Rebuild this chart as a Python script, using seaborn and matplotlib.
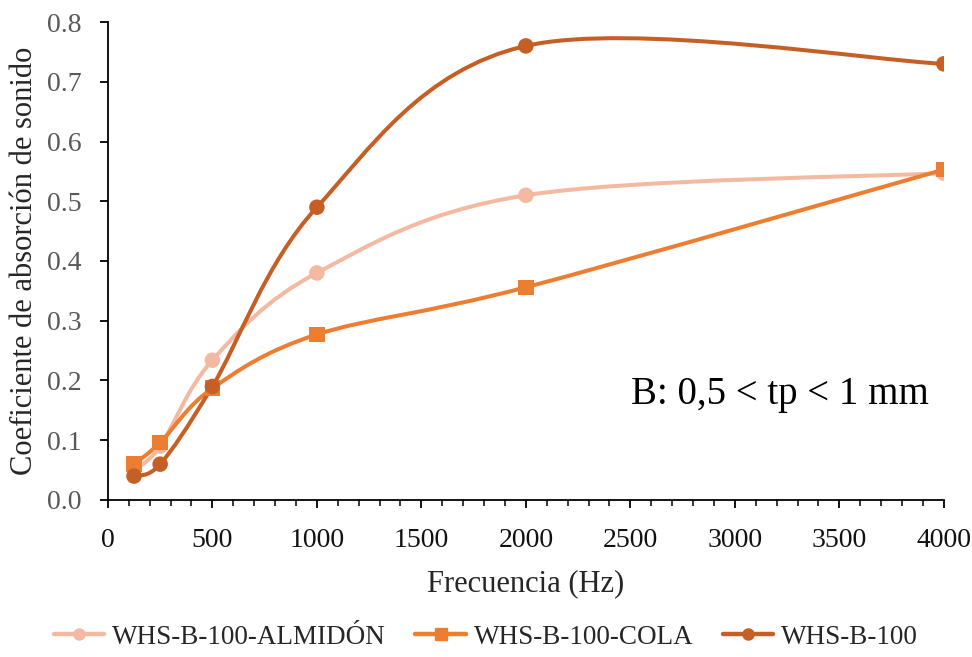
import numpy as np
import pandas as pd
import seaborn as sns
import matplotlib
matplotlib.use("Agg")
import matplotlib.pyplot as plt
from matplotlib.path import Path
from matplotlib.patches import PathPatch
from matplotlib.lines import Line2D
from matplotlib.ticker import MultipleLocator, FormatStrFormatter

# Frequencies (Hz) and absorption coefficients per sample
frecuencia = [125, 250, 500, 1000, 2000, 4000]
almidon = [0.05, 0.09, 0.234, 0.38, 0.51, 0.547]
cola = [0.06, 0.096, 0.187, 0.277, 0.356, 0.553]
base = [0.04, 0.06, 0.19, 0.49, 0.76, 0.73]

series_names = ["WHS-B-100-ALMIDÓN", "WHS-B-100-COLA", "WHS-B-100"]
series_values = [almidon, cola, base]
colors = ["#F4B9A1", "#ED7D31", "#C55F25"]
markers = ["o", "s", "o"]

df = pd.DataFrame({
    "Frecuencia": frecuencia * 3,
    "Coef": almidon + cola + base,
    "Serie": sum([[n] * len(frecuencia) for n in series_names], []),
})

sns.set_theme(style="white")
plt.rcParams["font.family"] = ["Liberation Serif", "DejaVu Serif"]

fig = plt.figure(figsize=(9.72, 6.57), dpi=100)
ax = fig.add_axes([0.111, 0.239, 0.86, 0.7275])


def smooth_path(xs, ys):
    """Catmull-Rom style cubic Bezier through the points."""
    pts = np.column_stack([xs, ys]).astype(float)
    n = len(pts)
    verts = [pts[0]]
    codes = [Path.MOVETO]
    for i in range(n - 1):
        p0 = pts[i - 1] if i > 0 else pts[i]
        p1 = pts[i]
        p2 = pts[i + 1]
        p3 = pts[i + 2] if i + 2 < n else pts[i + 1]
        c1 = p1 + (p2 - p0) / 6.0
        c2 = p2 - (p3 - p1) / 6.0
        verts += [c1, c2, p2]
        codes += [Path.CURVE4] * 3
    return Path(verts, codes)


for name, vals, col in zip(series_names, series_values, colors):
    ax.add_patch(PathPatch(smooth_path(frecuencia, vals), facecolor="none",
                           edgecolor=col, lw=2.9, zorder=2, capstyle="round"))

sns.scatterplot(data=df, x="Frecuencia", y="Coef", hue="Serie", style="Serie",
                palette=dict(zip(series_names, colors)),
                markers=dict(zip(series_names, markers)),
                s=125, edgecolor="none", legend=False, ax=ax, zorder=3)

ax.set_xlim(0, 4000)
ax.set_ylim(0, 0.8)
ax.xaxis.set_major_locator(MultipleLocator(500))
ax.xaxis.set_minor_locator(MultipleLocator(100))
ax.yaxis.set_major_locator(MultipleLocator(0.1))
ax.yaxis.set_major_formatter(FormatStrFormatter("%.1f"))

for s in ["top", "right"]:
    ax.spines[s].set_visible(False)
for s in ["left", "bottom"]:
    ax.spines[s].set_color("black")
    ax.spines[s].set_linewidth(1.3)

ax.tick_params(axis="both", which="major", direction="out", length=6, width=1.3,
               color="black", labelsize=20)
ax.tick_params(axis="y", which="major", labelcolor="#595959", pad=13, left=True)
ax.tick_params(axis="x", which="major", labelcolor="#111111", pad=14, bottom=True)
ax.tick_params(axis="x", which="minor", direction="out", length=4, width=1.1,
               color="black", bottom=True)

ax.set_xlabel("Frecuencia (Hz)", fontsize=22, color="#262626", labelpad=12)
ax.set_ylabel("Coeficiente de absorción de sonido", fontsize=22, color="#262626",
              labelpad=6)

ax.text(3930, 0.177, "B: 0,5 < tp < 1 mm", fontsize=28, ha="right", va="center",
        color="black")

handles = [Line2D([0], [0], color=c, lw=3.2, marker=m, markersize=8,
                  markeredgecolor=c) for c, m in zip(colors, markers)]
fig.legend(handles, series_names, loc="center", bbox_to_anchor=(0.5, 0.03),
           ncol=3, frameon=False, fontsize=19.5, handlelength=1.85,
           handletextpad=0.3, columnspacing=1.1, borderpad=0)

fig.savefig("out.png", dpi=100)
